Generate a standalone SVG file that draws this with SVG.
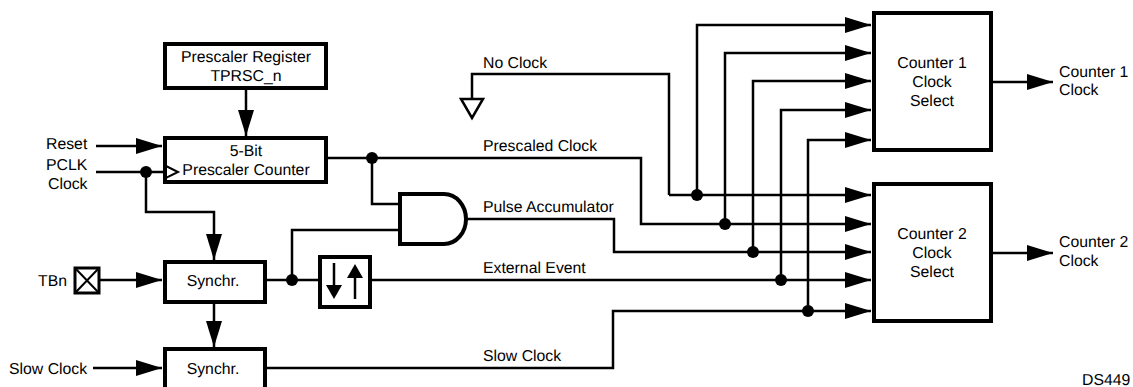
<svg xmlns="http://www.w3.org/2000/svg" width="1133" height="387" viewBox="0 0 1133 387">
<style>
text{font-family:"Liberation Sans",Arial,sans-serif;font-size:15.8px;fill:#000;text-rendering:geometricPrecision}
.m{text-anchor:middle}
.b{fill:#fff;stroke:#000;stroke-width:4}
.w{fill:none;stroke:#000;stroke-width:2.5}
.d{fill:#000}
</style>
<defs>
<marker id="a" markerUnits="userSpaceOnUse" markerWidth="26" markerHeight="16" refX="26" refY="8" orient="auto"><path d="M0 0L26 8L0 16Z" fill="#000"/></marker>
</defs>
<rect width="1133" height="387" fill="#fff"/>
<g id="connectors">
<path class="w" marker-end="url(#a)" d="M246 89V136"/>
<path class="w" marker-end="url(#a)" d="M96 146H162"/>
<path class="w" d="M96 172H165"/>
<path class="w" marker-end="url(#a)" d="M146 172V212H214V260"/>
<path class="w" marker-end="url(#a)" d="M100 280H162"/>
<path class="w" marker-end="url(#a)" d="M214 303V347"/>
<path class="w" marker-end="url(#a)" d="M93 368H162"/>
<path class="w" marker-end="url(#a)" d="M328 158H641V224H871"/>
<path class="w" d="M372 158V204H399"/>
<path class="w" d="M399 230H292V280"/>
<path class="w" d="M266 280H319"/>
<path class="w" marker-end="url(#a)" d="M371 280H871"/>
<path class="w" marker-end="url(#a)" d="M467 219H614V252H871"/>
<path class="w" marker-end="url(#a)" d="M267 368H613V311H871"/>
<path class="w" d="M472 98V74H669V195"/>
<path class="w" marker-end="url(#a)" d="M669 195H871"/>
<path class="w" marker-end="url(#a)" d="M697 195V25H871"/>
<path class="w" marker-end="url(#a)" d="M725 224V53H871"/>
<path class="w" marker-end="url(#a)" d="M753 252V81H871"/>
<path class="w" marker-end="url(#a)" d="M781 280V110H871"/>
<path class="w" marker-end="url(#a)" d="M808 311V140H871"/>
<path class="w" marker-end="url(#a)" d="M993 82H1053"/>
<path class="w" marker-end="url(#a)" d="M993 253H1053"/>
<circle class="d" cx="146" cy="172" r="6"/><circle class="d" cx="372" cy="158" r="6"/><circle class="d" cx="292" cy="280" r="6"/>
<circle class="d" cx="697" cy="195" r="6"/><circle class="d" cx="725" cy="224" r="6"/><circle class="d" cx="753" cy="252" r="6"/><circle class="d" cx="781" cy="280" r="6"/><circle class="d" cx="808" cy="311" r="6"/>
</g>
<g id="prescaler-register"><rect class="b" x="165" y="44" width="161" height="44"/><text class="m" x="246" y="62">Prescaler Register</text><text class="m" x="246" y="81">TPRSC_n</text></g>
<g id="prescaler-counter"><rect class="b" x="165" y="138" width="161" height="44"/><text class="m" x="246" y="156">5-Bit</text><text class="m" x="246" y="175">Prescaler Counter</text><path d="M166 166L178 172L166 178Z" fill="#fff" stroke="#000" stroke-width="2"/></g>
<g id="synchr-1"><rect class="b" x="165" y="262" width="100" height="40"/><text class="m" x="213" y="286">Synchr.</text></g>
<g id="synchr-2"><rect class="b" x="165" y="349" width="100" height="44"/><text class="m" x="213" y="374">Synchr.</text></g>
<g id="and-gate"><path class="b" d="M400 194H444A22 25 0 0 1 444 244H400Z"/></g>
<g id="edge-detector"><rect class="b" x="320" y="257" width="50" height="50"/><path d="M334 263V285" stroke="#000" stroke-width="2.5"/><path d="M326 285H342L334 299Z"/><path d="M355 299V277" stroke="#000" stroke-width="2.5"/><path d="M347 278H363L355 264Z"/></g>
<g id="tbn-pad"><rect x="75" y="268" width="24" height="25" fill="#fff" stroke="#000" stroke-width="3"/><path d="M75 268L99 293M99 268L75 293" stroke="#000" stroke-width="2"/></g>
<g id="no-clock-ground"><path d="M461 99H483L472 118Z" fill="#fff" stroke="#000" stroke-width="2.5"/></g>
<g id="counter-1"><rect class="b" x="874" y="13" width="117" height="137"/><text class="m" x="932" y="68">Counter 1</text><text class="m" x="932" y="87">Clock</text><text class="m" x="932" y="106">Select</text></g>
<g id="counter-2"><rect class="b" x="874" y="184" width="117" height="137"/><text class="m" x="932" y="239">Counter 2</text><text class="m" x="932" y="258">Clock</text><text class="m" x="932" y="277">Select</text></g>
<g id="labels">
<text x="46" y="149">Reset</text><text x="46" y="170">PCLK</text><text x="48" y="189">Clock</text>
<text x="38" y="286">TBn</text><text x="9" y="374">Slow Clock</text>
<text x="483" y="68">No Clock</text><text x="483" y="151">Prescaled Clock</text><text x="483" y="212">Pulse Accumulator</text><text x="483" y="273">External Event</text><text x="483" y="361">Slow Clock</text>
<text x="1059" y="77">Counter 1</text><text x="1059" y="95">Clock</text><text x="1059" y="247">Counter 2</text><text x="1059" y="266">Clock</text>
<text x="1082" y="385">DS449</text>
</g>
</svg>
